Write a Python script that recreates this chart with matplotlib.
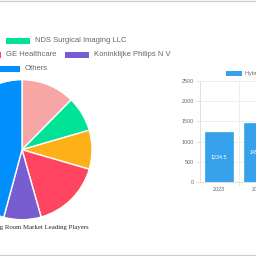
import matplotlib
matplotlib.use("Agg")
import matplotlib.pyplot as plt
from matplotlib.patches import Rectangle
from matplotlib.lines import Line2D

# ---------------- data ----------------
players = ["Getinge Group", "NDS Surgical Imaging LLC", "Stryker Corporation",
           "GE Healthcare", "Koninklijke Philips N V", "Others"]
shares = [12.4, 8.1, 9.0, 16.1, 8.6, 45.8]
pie_colors = ["#F7A6A6", "#00E396", "#FEB019", "#FF4560", "#775DD0", "#008FFB"]
legend_rows = [[0, 1], [2, 3, 4], [5]]
pie_title = "Hybrid Operating Room Market Leading Players"

years = ["2023", "2024"]
market_size = [1234.5, 1450.0]
bar_label = "Hybrid Operating Room Market Size (Million)"
bar_color = "#36A2EB"
y_ticks = [0, 500, 1000, 1500, 2000, 2500]

# ---------------- figure ----------------
W = H = 256
fig = plt.figure(figsize=(2.56, 2.56), dpi=100)
fig.patch.set_facecolor("white")

def fx(x):
    return x / W

def fy(y):
    return 1 - y / H

# frame lines top / bottom
fig.add_artist(Line2D([0, 1], [fy(0.5), fy(0.5)], transform=fig.transFigure,
                      color="#cccccc", lw=0.9))
fig.add_artist(Line2D([0, 1], [fy(254.8), fy(254.8)], transform=fig.transFigure,
                      color="#cccccc", lw=0.9))

# ---------------- pie ----------------
cx, cy, r = 22, 149.7, 70
axp = fig.add_axes([fx(cx - r), fy(cy + r), 2 * r / W, 2 * r / H])
axp.pie(shares, colors=pie_colors, startangle=90, counterclock=False,
        radius=1.0, wedgeprops=dict(edgecolor="white", linewidth=1.0))
axp.set_xlim(-1, 1)
axp.set_ylim(-1, 1)
axp.set_aspect("equal")
axp.axis("off")

fig.text(fx(cx), fy(227), pie_title, ha="center", va="center",
         fontsize=4.85, family="Liberation Serif", color="#222222")

# legend (manual, Chart.js-like centred rows)
renderer = fig.canvas.get_renderer()
box_w, box_h, gap_bt, gap_items = 24, 5.5, 4.7, 8.7
row_y = [41, 54.8, 68.8]
leg_font = dict(fontsize=5.5, family="Liberation Sans", color="#666666")
for ri, row in enumerate(legend_rows):
    texts = []
    widths = []
    for i in row:
        t = fig.text(0, 0, players[i], ha="left", va="center", **leg_font)
        w = t.get_window_extent(renderer).width
        texts.append(t)
        widths.append(box_w + gap_bt + w)
    total = sum(widths) + gap_items * (len(row) - 1)
    x = cx - total / 2
    yc = row_y[ri]
    for k, i in enumerate(row):
        fig.add_artist(Rectangle((fx(x), fy(yc + box_h / 2)), box_w / W, box_h / H,
                                 transform=fig.transFigure, facecolor=pie_colors[i],
                                 edgecolor="none"))
        texts[k].set_position((fx(x + box_w + gap_bt), fy(yc)))
        x += widths[k] + gap_items

# ---------------- bar chart ----------------
ax_left, ax_bottom, cat_w = 199.5, 182, 39
axb = fig.add_axes([fx(ax_left), fy(ax_bottom), 2 * cat_w / W, 101 / H])
xs = list(range(len(years)))
axb.bar(xs, market_size, width=0.72, color=bar_color, edgecolor=bar_color,
        linewidth=0.5, zorder=3)
for xi, v in zip(xs, market_size):
    axb.text(xi, v / 2, f"{v}", ha="center", va="center", color="white",
             fontsize=3.9, family="Liberation Sans", zorder=4)
axb.set_xlim(-0.5, len(years) - 0.5)
axb.set_ylim(0, 2500)
axb.set_yticks(y_ticks)
axb.set_yticklabels([str(t) for t in y_ticks])
axb.set_xticks(xs)
axb.set_xticklabels(years)
axb.set_xticks([i + 0.5 for i in xs], minor=True)
for lab in axb.get_xticklabels() + axb.get_yticklabels():
    lab.set_fontsize(3.9)
    lab.set_family("Liberation Sans")
    lab.set_color("#666666")
axb.tick_params(axis="y", length=2.9, width=0.6, color="#e0e0e0", pad=1.0)
axb.tick_params(axis="x", which="major", length=0, pad=3.3)
axb.tick_params(axis="x", which="minor", length=2.9, width=0.6, color="#e0e0e0")
axb.grid(axis="y", color="#ebebeb", lw=0.6, zorder=0)
axb.grid(axis="x", which="minor", color="#ebebeb", lw=0.6, zorder=0)
for s in ["top", "right"]:
    axb.spines[s].set_visible(False)
for s in ["left", "bottom"]:
    axb.spines[s].set_color("#dcdcdc")
    axb.spines[s].set_linewidth(0.6)
axb.set_facecolor("none")

# bar legend
fig.add_artist(Rectangle((fx(226), fy(76)), 16 / W, 5 / H, transform=fig.transFigure,
                         facecolor=bar_color, edgecolor="none"))
fig.text(fx(245), fy(73.5), bar_label, ha="left", va="center", fontsize=3.9,
         family="Liberation Sans", color="#666666")

fig.savefig("out.png", dpi=100, facecolor="white")
